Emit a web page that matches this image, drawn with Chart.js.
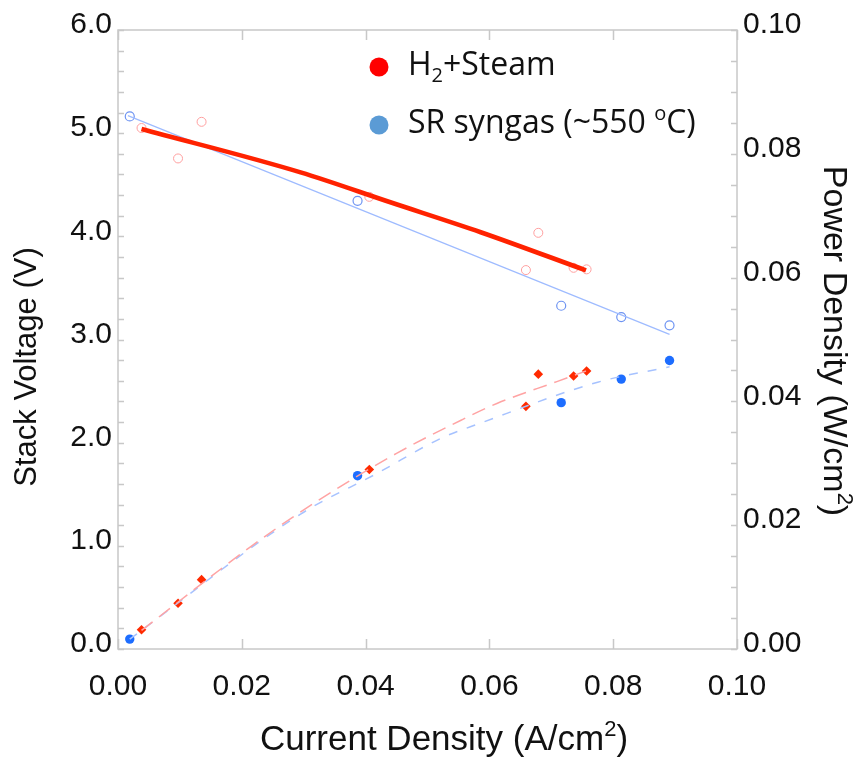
<!DOCTYPE html>
<html>
<head>
<meta charset="utf-8">
<script src="https://cdn.jsdelivr.net/npm/chart.js@4.4.1/dist/chart.umd.min.js"></script>
<style>
  html, body { margin: 0; padding: 0; background: #fff; }
  #wrap { width: 863px; height: 758px; }
</style>
</head>
<body>
<div id="wrap"><canvas id="chart" width="863" height="758"></canvas></div>
<script>
// measured points, H2 + steam
const h2Current = [0.0038, 0.0097, 0.0135, 0.0406, 0.0659, 0.0679, 0.0736, 0.0757];
const h2Voltage = [5.05, 4.755, 5.11, 4.383, 3.673, 4.034, 3.695, 3.68];
const h2Power = [0.0031, 0.0074, 0.0112, 0.0290, 0.0392, 0.0444, 0.0441, 0.0449];

// measured points, SR syngas
const syngasCurrent = [0.0019, 0.0387, 0.0716, 0.0813, 0.0891];
const syngasVoltage = [5.162, 4.344, 3.327, 3.217, 3.137];
const syngasPower = [0.0016, 0.0280, 0.0398, 0.0436, 0.0466];

// trend lines
const h2FitCurrent = [0.0038, 0.0295, 0.0440, 0.0586, 0.0756];
const h2FitVoltage = [5.04, 4.62, 4.33, 4.04, 3.67];
const syngasFitCurrent = [0.0016, 0.0891];
const syngasFitVoltage = [5.17, 3.05];
const h2PowerFitCurrent = [0.0038, 0.0214, 0.0311, 0.0450, 0.0555, 0.0613, 0.0709, 0.0756];
const h2PowerFit = [0.0030, 0.0165, 0.0232, 0.0316, 0.0370, 0.0397, 0.0432, 0.0449];
const syngasPowerFitCurrent = [0.0019, 0.0295, 0.0419, 0.0521, 0.0586, 0.0775, 0.0891];
const syngasPowerFit = [0.0016, 0.0218, 0.0284, 0.0340, 0.0365, 0.0431, 0.0456];

// tick labels
const xTickLabels = ['0.00', '0.02', '0.04', '0.06', '0.08', '0.10'];
const voltageTickLabels = ['0.0', '1.0', '2.0', '3.0', '4.0', '5.0', '6.0'];
const powerTickLabels = ['0.00', '0.02', '0.04', '0.06', '0.08', '0.10'];

// axis titles and legend text, [text, 0 normal | 1 subscript | -1 superscript]
const xTitle = [['Current Density (A/cm', 0], ['2', -1], [')', 0]];
const voltageTitle = [['Stack Voltage (V)', 0]];
const powerTitle = [['Power Density (W/cm', 0], ['2', -1], [')', 0]];
const legendRows = [
    { color: '#ff0000', parts: [['H', 0], ['2', 1], ['+Steam', 0]] },
    { color: '#5b9bd5', parts: [['SR syngas (~550 ', 0], ['o', -1], ['C)', 0]] }
];

function pairs(xs, ys) {
    return xs.map(function (x, i) { return { x: x, y: ys[i] }; });
}

const sansFamily = "'Liberation Sans', Arial, sans-serif";
const tickFont = { family: sansFamily, size: 30 };
const ink = '#111';
const frameGrey = '#c8c8c8';

// text with sub/superscripts, centred along its reading direction
function drawRich(ctx, parts, cx, baseline, angle, size, family, align) {
    ctx.save();
    ctx.translate(cx, baseline);
    ctx.rotate(angle);
    ctx.textBaseline = 'alphabetic';
    ctx.textAlign = 'left';
    ctx.fillStyle = ink;
    function fontFor(p) { return (p[1] ? Math.round(size * 0.64) : size) + 'px ' + family; }
    let total = 0;
    parts.forEach(function (p) { ctx.font = fontFor(p); total += ctx.measureText(p[0]).width; });
    let x = align === 'left' ? 0 : -total / 2;
    parts.forEach(function (p) {
        ctx.font = fontFor(p);
        const dy = p[1] === -1 ? -size * 0.4 : p[1] === 1 ? size * 0.22 : 0;
        ctx.fillText(p[0], x, dy);
        x += ctx.measureText(p[0]).width;
    });
    ctx.restore();
}

// frame and inward tick marks
const frameTicks = {
    id: 'frameTicks',
    beforeDatasetsDraw(chart) {
        const { ctx, chartArea: a, scales } = chart;
        ctx.save();
        ctx.strokeStyle = frameGrey;
        ctx.lineWidth = 1.5;
        ctx.strokeRect(a.left, a.top, a.right - a.left, a.bottom - a.top);
        ctx.beginPath();
        for (let i = 0; i <= 5; i++) {
            const px = Math.round(scales.x.getPixelForValue(i * 0.02)) + 0.5;
            ctx.moveTo(px, a.bottom); ctx.lineTo(px, a.bottom - 10);
            ctx.moveTo(px, a.top); ctx.lineTo(px, a.top + 10);
        }
        for (let i = 0; i <= 30; i++) {
            const py = Math.round(scales.y.getPixelForValue(i * 0.2)) + 0.5;
            ctx.moveTo(a.left, py); ctx.lineTo(a.left + 6, py);
        }
        for (let i = 0; i <= 20; i++) {
            const py = Math.round(scales.y1.getPixelForValue(i * 0.005)) + 0.5;
            ctx.moveTo(a.right, py); ctx.lineTo(a.right - 6, py);
        }
        ctx.stroke();
        ctx.restore();
    }
};

// axis titles and the legend that sits inside the plot
const titlesAndLegend = {
    id: 'titlesAndLegend',
    afterDraw(chart) {
        const ctx = chart.ctx;
        drawRich(ctx, xTitle, 444, 750, 0, 35, sansFamily);
        drawRich(ctx, voltageTitle, 36, 367, -Math.PI / 2, 31, sansFamily);
        drawRich(ctx, powerTitle, 824, 341, Math.PI / 2, 34, sansFamily);

        const baselines = [75, 133];
        legendRows.forEach(function (row, r) {
            ctx.save();
            ctx.fillStyle = row.color;
            ctx.beginPath();
            ctx.arc(379, baselines[r] - 8, 9.5, 0, Math.PI * 2);
            ctx.fill();
            ctx.restore();
            drawRich(ctx, row.parts, 408, baselines[r], 0, 32, "'Open Sans', sans-serif", 'left');
        });
    }
};

new Chart(document.getElementById('chart'), {
    type: 'scatter',
    data: {
        datasets: [
            {
                label: 'H2+Steam fit', yAxisID: 'y', showLine: true,
                data: pairs(h2FitCurrent, h2FitVoltage),
                borderColor: '#ff2200', borderWidth: 4.6, pointRadius: 0,
                cubicInterpolationMode: 'monotone'
            },
            {
                label: 'SR syngas fit', yAxisID: 'y', showLine: true,
                data: pairs(syngasFitCurrent, syngasFitVoltage),
                borderColor: '#9ebbff', borderWidth: 1.2, pointRadius: 0
            },
            {
                label: 'H2+Steam power fit', yAxisID: 'y1', showLine: true,
                data: pairs(h2PowerFitCurrent, h2PowerFit),
                borderColor: '#ffa3a3', borderWidth: 1.5, borderDash: [14, 8], pointRadius: 0,
                cubicInterpolationMode: 'monotone'
            },
            {
                label: 'SR syngas power fit', yAxisID: 'y1', showLine: true,
                data: pairs(syngasPowerFitCurrent, syngasPowerFit),
                borderColor: '#a6c2ff', borderWidth: 1.5, borderDash: [9, 10], pointRadius: 0,
                cubicInterpolationMode: 'monotone'
            },
            {
                label: 'H2+Steam voltage', yAxisID: 'y',
                data: pairs(h2Current, h2Voltage),
                pointStyle: 'circle', pointRadius: 4.5, borderWidth: 1,
                borderColor: '#ff9f9f', backgroundColor: 'rgba(255,255,255,0)'
            },
            {
                label: 'SR syngas voltage', yAxisID: 'y',
                data: pairs(syngasCurrent, syngasVoltage),
                pointStyle: 'circle', pointRadius: 4.5, borderWidth: 1.2,
                borderColor: '#6d93f2', backgroundColor: 'rgba(255,255,255,0)'
            },
            {
                label: 'H2+Steam power', yAxisID: 'y1',
                data: pairs(h2Current, h2Power),
                pointStyle: 'rectRot', pointRadius: 4.8, borderWidth: 0,
                backgroundColor: '#ff2a00'
            },
            {
                label: 'SR syngas power', yAxisID: 'y1',
                data: pairs(syngasCurrent, syngasPower),
                pointStyle: 'circle', pointRadius: 4.7, borderWidth: 0,
                backgroundColor: '#1d6dff'
            }
        ]
    },
    options: {
        responsive: false,
        animation: false,
        layout: { padding: { top: 30, left: 0, right: 0, bottom: 0 } },
        plugins: { legend: { display: false }, tooltip: { enabled: false } },
        scales: {
            x: {
                type: 'linear', min: 0, max: 0.1,
                afterFit: function (s) { s.height = 109; },
                grid: { display: false, drawTicks: false }, border: { display: false },
                ticks: {
                    stepSize: 0.02, padding: 20, color: ink, font: tickFont, maxRotation: 0,
                    callback: function (v) { return xTickLabels[Math.round(v / 0.02)]; }
                },
                title: { display: false }
            },
            y: {
                type: 'linear', position: 'left', min: 0, max: 6,
                afterFit: function (s) { s.width = 118; },
                grid: { display: false, drawTicks: false }, border: { display: false },
                ticks: {
                    stepSize: 1, padding: 6, labelOffset: -5, color: ink, font: tickFont,
                    callback: function (v) { return voltageTickLabels[Math.round(v)]; }
                },
                title: { display: false }
            },
            y1: {
                type: 'linear', position: 'right', min: 0, max: 0.1,
                afterFit: function (s) { s.width = 126; },
                grid: { display: false, drawTicks: false }, border: { display: false },
                ticks: {
                    stepSize: 0.02, padding: 6, labelOffset: -5, color: ink, font: tickFont,
                    callback: function (v) { return powerTickLabels[Math.round(v / 0.02)]; }
                },
                title: { display: false }
            }
        }
    },
    plugins: [frameTicks, titlesAndLegend]
});
</script>
</body>
</html>
